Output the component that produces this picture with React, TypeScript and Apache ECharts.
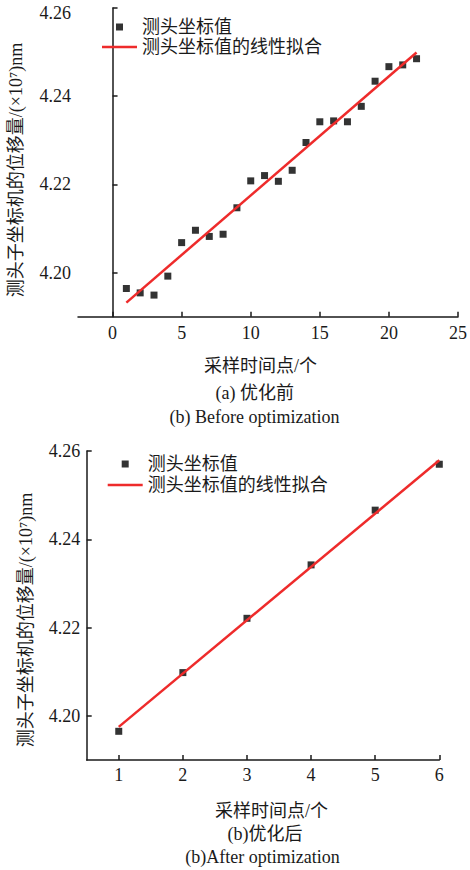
import React, { useEffect, useRef } from "react";
import * as echarts from "echarts";

// ---- data ----
const beforeX = [1, 2, 3, 4, 5, 6, 7, 8, 9, 10, 11, 12, 13, 14, 15, 16, 17, 18, 19, 20, 21, 22];
const beforeY = [
  4.1964, 4.1954, 4.1949, 4.1992, 4.2068, 4.2096, 4.2082, 4.2087, 4.2147, 4.2208, 4.222,
  4.2207, 4.2232, 4.2295, 4.2342, 4.2344, 4.2342, 4.2377, 4.2434, 4.2467, 4.2471, 4.2485,
];
const beforeFitX = [1, 22];
const beforeFitY = [4.1932, 4.2499];

const afterX = [1, 2, 3, 4, 5, 6];
const afterY = [4.1965, 4.2098, 4.2221, 4.2342, 4.2466, 4.257];
const afterFitX = [1, 6];
const afterFitY = [4.1975, 4.2579];

const beforeXTicks = [0, 5, 10, 15, 20, 25];
const afterXTicks = [1, 2, 3, 4, 5, 6];
const yTicks = [4.2, 4.22, 4.24, 4.26];

const seriesPointName = "测头坐标值";
const seriesFitName = "测头坐标值的线性拟合";
const yName = "测头子坐标机的位移量/(×10⁷)nm";
const xName = "采样时间点/个";

const FONT = "'Liberation Serif', 'Times New Roman', 'Noto Sans CJK SC', serif";
const TXT = "#1a1a1a";
const RED = "#ee2b2b";

function zip(a: number[], b: number[]) {
  return a.map((v, i) => [v, b[i]]);
}

export default function App() {
  const ref = useRef<HTMLDivElement>(null);
  useEffect(() => {
    if (!ref.current) return;
    const chart = echarts.init(ref.current, undefined, { renderer: "svg" });
    const axisLine = { show: true, lineStyle: { color: TXT, width: 1.5 } };
    const axisTick = (vals: number[]) => ({
      show: true,
      inside: true,
      length: 5,
      lineStyle: { color: TXT, width: 1.5 },
      customValues: vals,
    });
    const label = (vals: number[], margin: number, fmt?: (v: number) => string, rich?: any) => ({
      customValues: vals,
      margin,
      color: TXT,
      fontFamily: FONT,
      fontSize: 18,
      formatter: fmt,
      rich,
    });
    const yFmt = (v: number) => v.toFixed(2);
    const yFmtTop = (v: number) => (Math.abs(v - 4.26) < 1e-6 ? `{top|${v.toFixed(2)}}` : v.toFixed(2));
    const xFmt = (v: number) => String(Math.round(v));
    const legendData = [
      { name: seriesPointName, icon: "path://M0,0h10v10h-10z" },
      { name: seriesFitName, icon: "path://M0,0h70v5h-70z" },
    ];
    const legendCommon = {
      orient: "vertical" as const,
      itemWidth: 35,
      itemHeight: 7,
      padding: 0,
      selectedMode: false,
      textStyle: { color: TXT, fontFamily: FONT, fontSize: 18 },
      data: legendData,
    };
    chart.setOption({
      animation: false,
      backgroundColor: "#fff",
      grid: [
        { left: 78, top: 8, width: 384.3, height: 308.7 },
        { left: 86.7, top: 451, width: 352.6, height: 309 },
      ],
      legend: [
        { ...legendCommon, left: 102, top: 18, itemGap: 2 },
        { ...legendCommon, left: 107.7, top: 455, itemGap: 3 },
      ],
      xAxis: [
        {
          gridIndex: 0,
          type: "value",
          min: -2.5,
          max: 25,
          axisLine,
          axisTick: axisTick(beforeXTicks),
          axisLabel: label(beforeXTicks, 7, xFmt),
          splitLine: { show: false },
          name: xName,
          nameLocation: "middle",
          nameGap: 40,
          nameTextStyle: { color: TXT, fontFamily: FONT, fontSize: 18, padding: [0, 15, 0, 0] },
        },
        {
          gridIndex: 1,
          type: "value",
          min: 0.5,
          max: 6,
          axisLine,
          axisTick: axisTick(afterXTicks),
          axisLabel: label(afterXTicks, 6, xFmt),
          splitLine: { show: false },
          name: xName,
          nameLocation: "middle",
          nameGap: 41.5,
          nameTextStyle: { color: TXT, fontFamily: FONT, fontSize: 18, padding: [0, 0, 0, 17] },
        },
      ],
      yAxis: [
        {
          gridIndex: 0,
          type: "value",
          min: 4.19,
          max: 4.26,
          axisLine,
          axisTick: axisTick(yTicks),
          axisLabel: label(yTicks, 7, yFmtTop, {
            top: { fontFamily: FONT, fontSize: 18, color: TXT, padding: [10, 0, 0, 0] },
          }),
          splitLine: { show: false },
        },
        {
          gridIndex: 1,
          type: "value",
          min: 4.19,
          max: 4.26,
          axisLine,
          axisTick: axisTick(yTicks),
          axisLabel: label(yTicks, 6.5, yFmt),
          splitLine: { show: false },
        },
      ],
      series: [
        {
          name: seriesPointName,
          type: "scatter",
          xAxisIndex: 0,
          yAxisIndex: 0,
          symbol: "rect",
          symbolSize: 7,
          itemStyle: { color: "#000" },
          data: zip(beforeX, beforeY),
          z: 3,
        },
        {
          name: seriesFitName,
          type: "line",
          xAxisIndex: 0,
          yAxisIndex: 0,
          symbol: "none",
          lineStyle: { color: RED, width: 2.5 },
          itemStyle: { color: RED },
          data: zip(beforeFitX, beforeFitY),
          z: 4,
        },
        {
          name: seriesPointName,
          type: "scatter",
          xAxisIndex: 1,
          yAxisIndex: 1,
          symbol: "rect",
          symbolSize: 7,
          itemStyle: { color: "#000" },
          data: zip(afterX, afterY),
          z: 3,
        },
        {
          name: seriesFitName,
          type: "line",
          xAxisIndex: 1,
          yAxisIndex: 1,
          symbol: "none",
          lineStyle: { color: RED, width: 2.5 },
          itemStyle: { color: RED },
          data: zip(afterFitX, afterFitY),
          z: 4,
        },
      ],
      graphic: [
        {
          type: "text",
          x: 16,
          y: 170,
          rotation: Math.PI / 2,
          style: { text: yName, fill: TXT, font: `18px ${FONT}`, align: "center", verticalAlign: "middle" },
        },
        {
          type: "text",
          x: 26,
          y: 620,
          rotation: Math.PI / 2,
          style: { text: yName, fill: TXT, font: `18px ${FONT}`, align: "center", verticalAlign: "middle" },
        },
        {
          type: "text",
          x: 254.7,
          y: 393,
          style: { text: "(a) 优化前", fill: TXT, font: `18px ${FONT}`, align: "center", verticalAlign: "middle" },
        },
        {
          type: "text",
          x: 254.5,
          y: 417,
          style: { text: "(b) Before optimization", fill: TXT, font: `18px ${FONT}`, align: "center", verticalAlign: "middle" },
        },
        {
          type: "text",
          x: 265,
          y: 834.3,
          style: { text: "(b)优化后", fill: TXT, font: `18px ${FONT}`, align: "center", verticalAlign: "middle" },
        },
        {
          type: "text",
          x: 262.5,
          y: 857.3,
          style: { text: "(b)After optimization", fill: TXT, font: `18px ${FONT}`, align: "center", verticalAlign: "middle" },
        },
      ],
    });
    return () => chart.dispose();
  }, []);
  return (
    <div
      ref={ref}
      style={{ position: "absolute", left: 0, top: 0, width: 470, height: 870, background: "#fff" }}
    />
  );
}
